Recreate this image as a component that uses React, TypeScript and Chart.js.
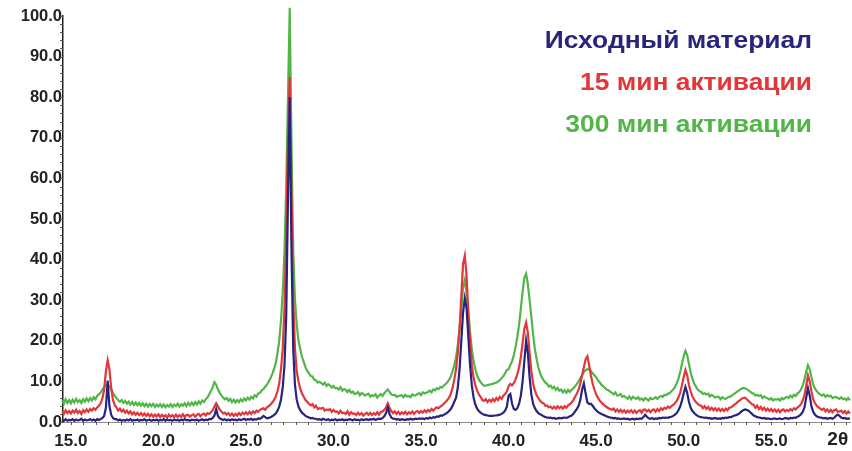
import React, { useEffect, useRef } from "react";
import { Chart, registerables } from "chart.js";

Chart.register(...registerables);

// 2θ sampling: first row starts at 14.5°, every following row starts at a whole degree, step 0.1°
const FIRST_ROW_START = 14.5;
const STEP = 0.1;

const seriesNames = ["Исходный материал", "15 мин активации", "300 мин активации"];

// Исходный материал (rows per degree)
const initialRows: number[][] = [
  [0.6, 0.3, 0.7, 0.3, 0.5],
  [0.4, 0.7, 0.3, 0.6, 0.4, 0.5, 0.8, 0.3, 0.6, 0.4],
  [0.5, 0.7, 0.4, 0.6, 0.3, 0.7, 0.5, 0.7, 1.0, 1.5],
  [3.5, 10.2, 4.0, 1.8, 1.0, 0.7, 0.7, 0.4, 0.6, 0.3],
  [0.5, 0.3, 0.6, 0.4, 0.7, 0.3, 0.5, 0.4, 0.6, 0.3],
  [0.5, 0.4, 0.7, 0.3, 0.5, 0.6, 0.3, 0.5, 0.4, 0.6],
  [0.3, 0.5, 0.4, 0.7, 0.3, 0.6, 0.4, 0.5, 0.3, 0.6],
  [0.4, 0.5, 0.3, 0.6, 0.4, 0.7, 0.4, 0.5, 0.3, 0.6],
  [0.5, 0.4, 0.6, 0.3, 0.5, 0.7, 0.4, 0.6, 0.5, 0.7],
  [0.7, 1.0, 1.6, 3.2, 1.5, 0.9, 0.7, 0.5, 0.7, 0.4],
  [0.6, 0.4, 0.7, 0.5, 0.6, 0.4, 0.7, 0.5, 0.6, 0.8],
  [0.5, 0.7, 0.6, 0.8, 0.5, 0.7, 0.6, 0.9, 0.8, 1.1],
  [1.5, 1.2, 0.9, 1.0, 1.2, 1.4, 1.7, 2.1, 2.8, 3.8],
  [5.5, 8.5, 14, 26, 55, 80, 42, 18, 9, 5.5],
  [3.8, 2.9, 2.3, 1.9, 1.5, 1.3, 1.1, 0.9, 1.0, 0.8],
  [0.8, 0.6, 0.7, 0.5, 0.8, 0.6, 0.5, 0.7, 0.4, 0.6],
  [0.5, 0.7, 0.4, 0.6, 0.5, 0.7, 0.4, 0.6, 0.5, 0.7],
  [0.6, 0.4, 0.7, 0.5, 0.6, 0.4, 0.7, 0.5, 0.6, 0.7],
  [0.5, 0.7, 0.6, 0.8, 0.5, 0.7, 0.8, 0.7, 1.0, 1.4],
  [2.2, 3.6, 2.0, 1.1, 0.8, 0.8, 0.6, 0.7, 0.5, 0.7],
  [0.6, 0.5, 0.7, 0.6, 0.8, 0.6, 0.7, 0.8, 0.7, 0.9],
  [0.8, 0.9, 0.7, 1.0, 0.8, 1.1, 0.9, 1.2, 1.1, 1.4],
  [1.3, 1.6, 1.5, 1.8, 2.0, 2.3, 2.7, 3.2, 4.0, 5.0],
  [6.0, 8.5, 13, 20, 27, 30.5, 28, 21, 14, 9],
  [6.0, 4.3, 3.3, 2.7, 2.3, 2.0, 1.8, 1.7, 1.6, 1.5],
  [1.5, 1.5, 1.6, 1.6, 1.7, 1.8, 2.0, 2.3, 2.8, 3.8],
  [6.5, 6.9, 4.5, 3.2, 3.0, 3.4, 4.5, 6.5, 10, 15],
  [20, 17, 11, 6.8, 4.5, 3.4, 2.7, 2.2, 1.9, 1.7],
  [1.4, 1.2, 1.1, 1.0, 1.1, 0.9, 1.0, 0.8, 0.9, 1.0],
  [0.9, 1.0, 1.1, 1.0, 1.2, 1.4, 1.6, 2.0, 2.6, 3.2],
  [4.0, 5.5, 8.0, 9.5, 7.0, 4.8, 4.4, 4.5, 4.0, 3.4],
  [2.9, 2.5, 2.2, 2.0, 1.8, 1.6, 1.4, 1.2, 1.1, 1.0],
  [0.9, 1.0, 0.8, 0.9, 0.7, 0.8, 0.9, 0.7, 0.8, 0.6],
  [0.7, 0.8, 0.6, 0.8, 0.7, 0.9, 0.8, 1.2, 1.8, 1.3],
  [0.9, 0.8, 1.0, 0.7, 0.9, 0.8, 1.0, 0.9, 1.1, 1.0],
  [1.1, 1.0, 1.2, 1.3, 1.5, 1.8, 2.2, 2.9, 3.8, 5.2],
  [7.0, 8.6, 7.2, 5.0, 3.5, 2.7, 2.2, 1.8, 1.5, 1.3],
  [1.2, 1.1, 1.0, 1.1, 0.9, 1.0, 0.8, 0.9, 1.0, 0.8],
  [0.9, 0.8, 1.0, 0.9, 1.1, 1.0, 1.2, 1.2, 1.4, 1.6],
  [1.7, 1.9, 2.2, 2.6, 2.9, 3.1, 3.0, 2.8, 2.4, 2.0],
  [1.6, 1.4, 1.2, 1.1, 1.0, 0.9, 1.0, 0.8, 0.9, 0.8],
  [0.7, 0.8, 0.9, 0.7, 0.8, 0.9, 0.7, 0.8, 1.0, 0.9],
  [0.8, 1.0, 0.9, 1.1, 1.0, 1.3, 1.5, 1.9, 2.5, 3.6],
  [6.0, 8.3, 6.5, 3.8, 2.5, 1.8, 1.4, 1.2, 1.1, 1.0],
  [0.9, 1.0, 0.8, 0.9, 1.0, 0.8, 1.1, 1.5, 1.8, 1.5],
  [1.1, 0.9, 1.0, 0.8, 0.9, 0.8],
];

// 15 мин активации
const min15Rows: number[][] = [
  [2.6, 2.0, 2.9, 2.2, 2.7],
  [2.1, 2.8, 2.3, 3.0, 2.2, 2.7, 2.0, 2.9, 2.4, 3.1],
  [2.5, 3.2, 2.8, 3.4, 3.0, 3.6, 4.0, 4.6, 5.8, 8.0],
  [12.5, 15.2, 13.0, 8.5, 5.5, 4.2, 3.6, 2.8, 3.3, 2.6],
  [3.0, 2.3, 2.8, 2.1, 2.6, 1.9, 2.4, 1.8, 2.3, 1.7],
  [2.2, 1.6, 2.1, 1.5, 2.0, 1.4, 1.9, 1.3, 1.8, 1.4],
  [1.9, 1.2, 1.8, 1.3, 1.7, 1.1, 1.8, 1.3, 1.7, 1.2],
  [1.8, 1.2, 1.7, 1.3, 1.9, 1.2, 1.7, 1.8, 1.3, 1.7],
  [1.9, 1.3, 1.8, 2.0, 1.4, 1.9, 2.1, 1.6, 2.2, 2.0],
  [2.4, 2.9, 3.8, 4.6, 3.9, 3.0, 2.6, 2.1, 2.3, 1.8],
  [2.2, 1.6, 2.1, 1.5, 2.0, 1.6, 2.2, 1.7, 2.3, 1.9],
  [2.4, 1.9, 2.5, 2.0, 2.6, 2.2, 2.8, 2.5, 3.0, 3.2],
  [3.4, 3.0, 3.6, 3.9, 4.3, 4.8, 5.4, 6.3, 7.5, 9.5],
  [13, 18, 28, 45, 70, 85, 55, 30, 18, 12.5],
  [10, 8.2, 7.0, 6.2, 5.4, 5.0, 4.5, 4.1, 4.4, 3.6],
  [4.0, 3.2, 3.4, 3.3, 3.5, 2.8, 3.1, 2.9, 3.2, 2.5],
  [3.0, 2.5, 2.6, 2.1, 2.8, 2.2, 2.3, 2.0, 2.6, 1.8],
  [2.4, 2.0, 2.1, 1.7, 2.3, 1.8, 2.2, 1.6, 2.0, 2.3],
  [1.8, 2.3, 1.7, 2.2, 1.8, 2.4, 1.8, 2.5, 2.6, 3.0],
  [3.6, 4.6, 3.5, 2.7, 2.2, 2.6, 2.0, 2.5, 1.9, 2.4],
  [2.0, 2.5, 1.9, 2.4, 2.1, 2.6, 2.0, 2.5, 2.7, 2.2],
  [2.7, 2.3, 2.9, 2.4, 3.0, 2.6, 3.2, 2.8, 3.3, 3.6],
  [3.4, 3.8, 4.1, 4.5, 4.9, 5.4, 6.0, 7.0, 8.4, 10.5],
  [13, 17, 23, 31, 39, 41, 36, 27, 20, 14],
  [11, 9, 7.8, 6.8, 6.2, 5.4, 5.2, 5.6, 4.9, 5.5],
  [5.0, 5.7, 5.1, 5.9, 5.4, 6.2, 5.7, 6.5, 6.9, 7.5],
  [8.8, 9.4, 9.0, 9.6, 10.5, 11.8, 13.5, 16, 19.5, 23],
  [24.5, 22, 17, 12.5, 9.5, 7.8, 6.6, 5.9, 5.2, 4.8],
  [4.6, 4.0, 4.1, 3.6, 3.8, 3.3, 3.8, 3.3, 3.9, 3.4],
  [3.8, 3.3, 3.9, 3.5, 4.1, 4.4, 4.8, 5.4, 6.2, 7.0],
  [8.0, 9.5, 11.5, 13.5, 15.5, 16.2, 14, 11.5, 9.5, 8.0],
  [6.8, 6.0, 5.3, 4.8, 4.4, 4.0, 3.7, 3.4, 3.2, 3.0],
  [3.3, 2.6, 3.1, 2.5, 3.0, 2.4, 2.9, 2.3, 2.8, 2.4],
  [2.9, 2.3, 2.8, 2.2, 2.7, 2.9, 2.3, 3.0, 3.1, 2.6],
  [3.0, 2.4, 2.9, 3.1, 2.5, 3.2, 2.7, 3.4, 3.0, 3.5],
  [3.3, 3.8, 3.5, 3.9, 4.2, 4.6, 5.2, 6.0, 7.2, 9.0],
  [11, 12.8, 11.5, 9.2, 7.5, 6.3, 5.5, 4.9, 4.5, 4.1],
  [4.0, 3.4, 3.9, 3.2, 3.7, 3.0, 3.5, 2.9, 3.4, 2.8],
  [3.3, 2.7, 3.2, 2.7, 3.3, 2.9, 3.5, 3.6, 3.9, 4.3],
  [4.6, 5.0, 5.3, 5.7, 5.9, 6.0, 5.6, 5.2, 4.8, 4.4],
  [4.2, 3.5, 4.0, 3.2, 3.7, 3.0, 3.5, 2.8, 3.3, 2.7],
  [3.2, 2.6, 3.1, 2.5, 3.0, 2.4, 2.9, 3.1, 2.6, 3.0],
  [2.7, 3.2, 2.8, 3.4, 3.1, 3.6, 3.9, 4.4, 5.3, 6.6],
  [9.0, 11.5, 10, 7.5, 5.6, 4.6, 4.0, 3.6, 3.3, 3.0],
  [3.3, 2.6, 3.1, 2.5, 3.0, 2.4, 2.9, 3.1, 2.5, 2.6],
  [2.8, 2.2, 2.7, 2.1, 2.6, 2.1],
];

// 300 мин активации
const min300Rows: number[][] = [
  [5.3, 4.5, 5.6, 4.7, 5.4],
  [4.6, 5.5, 4.8, 5.7, 4.9, 5.4, 4.7, 5.6, 5.0, 5.8],
  [5.1, 5.9, 5.3, 6.1, 5.6, 6.4, 6.8, 7.3, 8.0, 8.6],
  [9.0, 9.2, 8.8, 8.0, 7.2, 6.5, 5.9, 5.4, 5.0, 5.4],
  [4.7, 5.2, 4.5, 5.0, 4.3, 4.9, 4.2, 4.8, 4.1, 4.7],
  [4.0, 4.6, 3.9, 4.5, 3.8, 4.4, 3.9, 4.5, 3.7, 4.3],
  [3.8, 4.4, 3.7, 4.3, 3.6, 4.2, 3.8, 4.4, 3.7, 4.3],
  [3.9, 4.5, 3.8, 4.4, 4.0, 4.6, 3.9, 4.7, 4.1, 4.8],
  [4.2, 4.9, 4.3, 5.1, 4.5, 5.3, 4.9, 5.6, 6.0, 6.8],
  [7.6, 8.6, 9.8, 9.2, 8.0, 7.2, 6.5, 6.0, 5.6, 5.9],
  [5.2, 5.7, 4.9, 5.5, 4.8, 5.4, 4.9, 5.6, 5.1, 5.8],
  [5.3, 6.0, 5.5, 6.2, 5.8, 6.6, 6.2, 7.0, 7.2, 7.8],
  [8.1, 8.7, 9.2, 10, 10.8, 11.8, 13, 14.5, 17, 20],
  [25, 32, 42, 58, 80, 102, 68, 42, 30, 24],
  [20, 18, 16, 14.8, 13.5, 12.6, 12, 11.3, 11.2, 10.4],
  [10.3, 9.7, 9.9, 9.6, 9.2, 9.7, 8.9, 9.3, 9.0, 8.5],
  [8.9, 8.3, 8.4, 8.0, 8.6, 7.7, 8.1, 7.9, 7.4, 7.9],
  [7.2, 7.5, 6.9, 7.0, 7.4, 6.6, 7.1, 6.9, 6.5, 6.8],
  [7.0, 6.2, 6.6, 6.4, 6.8, 6.0, 6.5, 6.9, 6.4, 7.1],
  [7.6, 8.0, 7.4, 6.8, 6.6, 6.7, 6.2, 6.4, 6.5, 6.6],
  [6.1, 6.7, 6.3, 6.4, 6.1, 6.8, 6.5, 6.6, 6.9, 7.1],
  [6.6, 7.3, 7.0, 7.2, 7.4, 7.7, 7.3, 8.0, 7.8, 8.3],
  [8.1, 8.6, 8.5, 9.0, 9.3, 9.8, 10.4, 11.2, 12.5, 14],
  [16, 19, 23, 28, 33, 35, 32, 27, 22, 18],
  [15, 13, 11.5, 10.5, 9.8, 9.3, 8.9, 9.0, 9.1, 9.2],
  [9.3, 9.4, 9.6, 9.7, 10, 10.3, 10.8, 11.3, 12, 12.8],
  [13, 14, 15, 16.5, 18.5, 21, 24, 28, 32, 35.5],
  [36.5, 34, 30, 26, 21.5, 18, 15.5, 13.5, 12, 11],
  [10.3, 9.7, 9.4, 8.7, 9.0, 8.3, 8.7, 7.9, 8.4, 7.7],
  [8.0, 7.3, 7.8, 7.2, 7.9, 7.4, 8.0, 8.3, 8.8, 9.4],
  [10, 10.8, 11.5, 12.3, 12.8, 13, 12.9, 12.6, 12.0, 11.5],
  [11, 10.3, 9.8, 9.2, 8.8, 8.4, 8.0, 7.8, 7.5, 7.2],
  [6.8, 7.3, 6.5, 6.6, 6.9, 6.2, 6.4, 6.1, 5.7, 6.3],
  [5.6, 6.2, 5.9, 5.7, 6.1, 5.5, 5.8, 5.3, 5.9, 5.6],
  [5.3, 5.9, 5.6, 5.8, 6.1, 5.7, 6.2, 6.4, 6.2, 6.7],
  [6.6, 7.0, 7.1, 7.6, 8.0, 8.6, 9.5, 10.7, 12.3, 14.3],
  [16.2, 17.5, 16.5, 14.3, 12.2, 10.6, 9.5, 8.7, 8.0, 7.6],
  [7.4, 6.9, 7.1, 6.8, 7.0, 6.3, 6.7, 6.4, 6.0, 6.2],
  [6.2, 5.6, 6.1, 5.8, 5.7, 6.0, 6.2, 6.3, 6.7, 7.0],
  [7.3, 7.6, 7.9, 8.2, 8.4, 8.3, 8.1, 7.8, 7.5, 7.1],
  [7.0, 6.5, 6.7, 6.4, 6.6, 5.9, 6.3, 6.0, 5.8, 5.5],
  [5.9, 5.3, 5.6, 5.5, 5.7, 5.3, 5.9, 5.6, 6.0, 6.2],
  [5.9, 6.5, 6.1, 6.7, 6.4, 7.0, 7.4, 8.0, 9.0, 10.5],
  [12.5, 14, 13, 11, 9.2, 8.2, 7.6, 7.1, 6.8, 6.5],
  [6.8, 6.2, 6.6, 6.3, 6.5, 5.9, 6.1, 6.2, 5.9, 5.7],
  [6.1, 5.6, 5.8, 5.4, 5.9, 5.3],
];

const xTickValues = [15, 20, 25, 30, 35, 40, 45, 50, 55];
const yTickValues = [0, 10, 20, 30, 40, 50, 60, 70, 80, 90, 100];
const xAxisLabel = "2θ";

const seriesColors = ["#27247e", "#e2363a", "#52b548"];
const FONT = '"Liberation Sans", Arial, sans-serif';

function toPoints(rows: number[][]) {
  const pts: { x: number; y: number }[] = [];
  rows.forEach((row, k) => {
    const start = k === 0 ? FIRST_ROW_START : Math.floor(FIRST_ROW_START) + k;
    row.forEach((v, j) => pts.push({ x: Math.round((start + j * STEP) * 100) / 100, y: v }));
  });
  return pts;
}

const decorPlugin = {
  id: "decor",
  afterDraw(chart: any) {
    const { ctx, scales } = chart;
    const xs = scales.x;
    const ys = scales.y;
    ctx.save();
    // minor ticks
    ctx.strokeStyle = "#555";
    ctx.lineWidth = 1;
    ctx.beginPath();
    for (let v = 0; v <= 100; v += 2) {
      const py = Math.round(ys.getPixelForValue(v)) + 0.5;
      ctx.moveTo(xs.left - 3, py);
      ctx.lineTo(xs.left, py);
    }
    for (let i = 0; ; i++) {
      const v = 15 + (i * 5) / 7;
      if (v > xs.max) break;
      const px = Math.round(xs.getPixelForValue(v)) + 0.5;
      ctx.moveTo(px, ys.bottom);
      ctx.lineTo(px, ys.bottom + 3);
    }
    ctx.stroke();
    // axis label 2θ
    ctx.fillStyle = "#222";
    ctx.font = `bold 19px ${FONT}`;
    ctx.textAlign = "center";
    ctx.textBaseline = "middle";
    ctx.fillText(xAxisLabel, xs.getPixelForValue(58.8), ys.bottom + 18);
    // legend (slightly widened lettering as in the original)
    ctx.font = `bold 24px ${FONT}`;
    ctx.textAlign = "right";
    const legendY = [41, 83, 125];
    seriesNames.forEach((name, i) => {
      ctx.save();
      ctx.translate(812, legendY[i]);
      ctx.scale(1.1, 1);
      ctx.fillStyle = seriesColors[i];
      ctx.fillText(name, 0, 0);
      ctx.restore();
    });
    ctx.restore();
  },
};

export default function App() {
  const ref = useRef<HTMLCanvasElement>(null);
  useEffect(() => {
    if (!ref.current) return;
    const rowsList = [initialRows, min15Rows, min300Rows];
    const chart = new Chart(ref.current, {
      type: "line",
      data: {
        datasets: rowsList.map((rows, i) => ({
          label: seriesNames[i],
          data: toPoints(rows),
          borderColor: seriesColors[i],
          backgroundColor: seriesColors[i],
          borderWidth: 2.2,
          pointRadius: 0,
          tension: 0,
          clip: false as any,
        })),
      },
      options: {
        animation: false,
        responsive: false,
        layout: { padding: { top: 16, right: 2, left: 0, bottom: 0 } },
        plugins: { legend: { display: false }, tooltip: { enabled: false } },
        scales: {
          x: {
            type: "linear",
            min: 14.55,
            max: 59.5,
            afterBuildTicks: (s: any) => {
              s.ticks = xTickValues.map((v) => ({ value: v }));
            },
            afterFit: (s: any) => {
              s.height = 29;
            },
            grid: { display: false, drawTicks: false },
            border: { display: true, color: "#8c8c8c", width: 1 },
            ticks: {
              padding: 9,
              autoSkip: false,
              maxRotation: 0,
              color: "#222",
              font: { family: FONT, size: 17, weight: "bold" },
              callback: (v: any) => Number(v).toFixed(1),
            },
          },
          y: {
            type: "linear",
            min: 0,
            max: 100,
            afterBuildTicks: (s: any) => {
              s.ticks = yTickValues.map((v) => ({ value: v }));
            },
            afterFit: (s: any) => {
              s.width = 63;
            },
            grid: { display: false, drawTicks: false },
            border: { display: true, color: "#222", width: 1.5 },
            ticks: {
              padding: 1,
              color: "#222",
              font: { family: FONT, size: 16.5, weight: "bold" },
              callback: (v: any) => Number(v).toFixed(1),
            },
          },
        },
      } as any,
      plugins: [decorPlugin],
    });
    return () => chart.destroy();
  }, []);
  return (
    <div style={{ position: "absolute", left: 0, top: 0, width: 852, height: 451, background: "#fff" }}>
      <canvas ref={ref} width={852} height={451} />
    </div>
  );
}
